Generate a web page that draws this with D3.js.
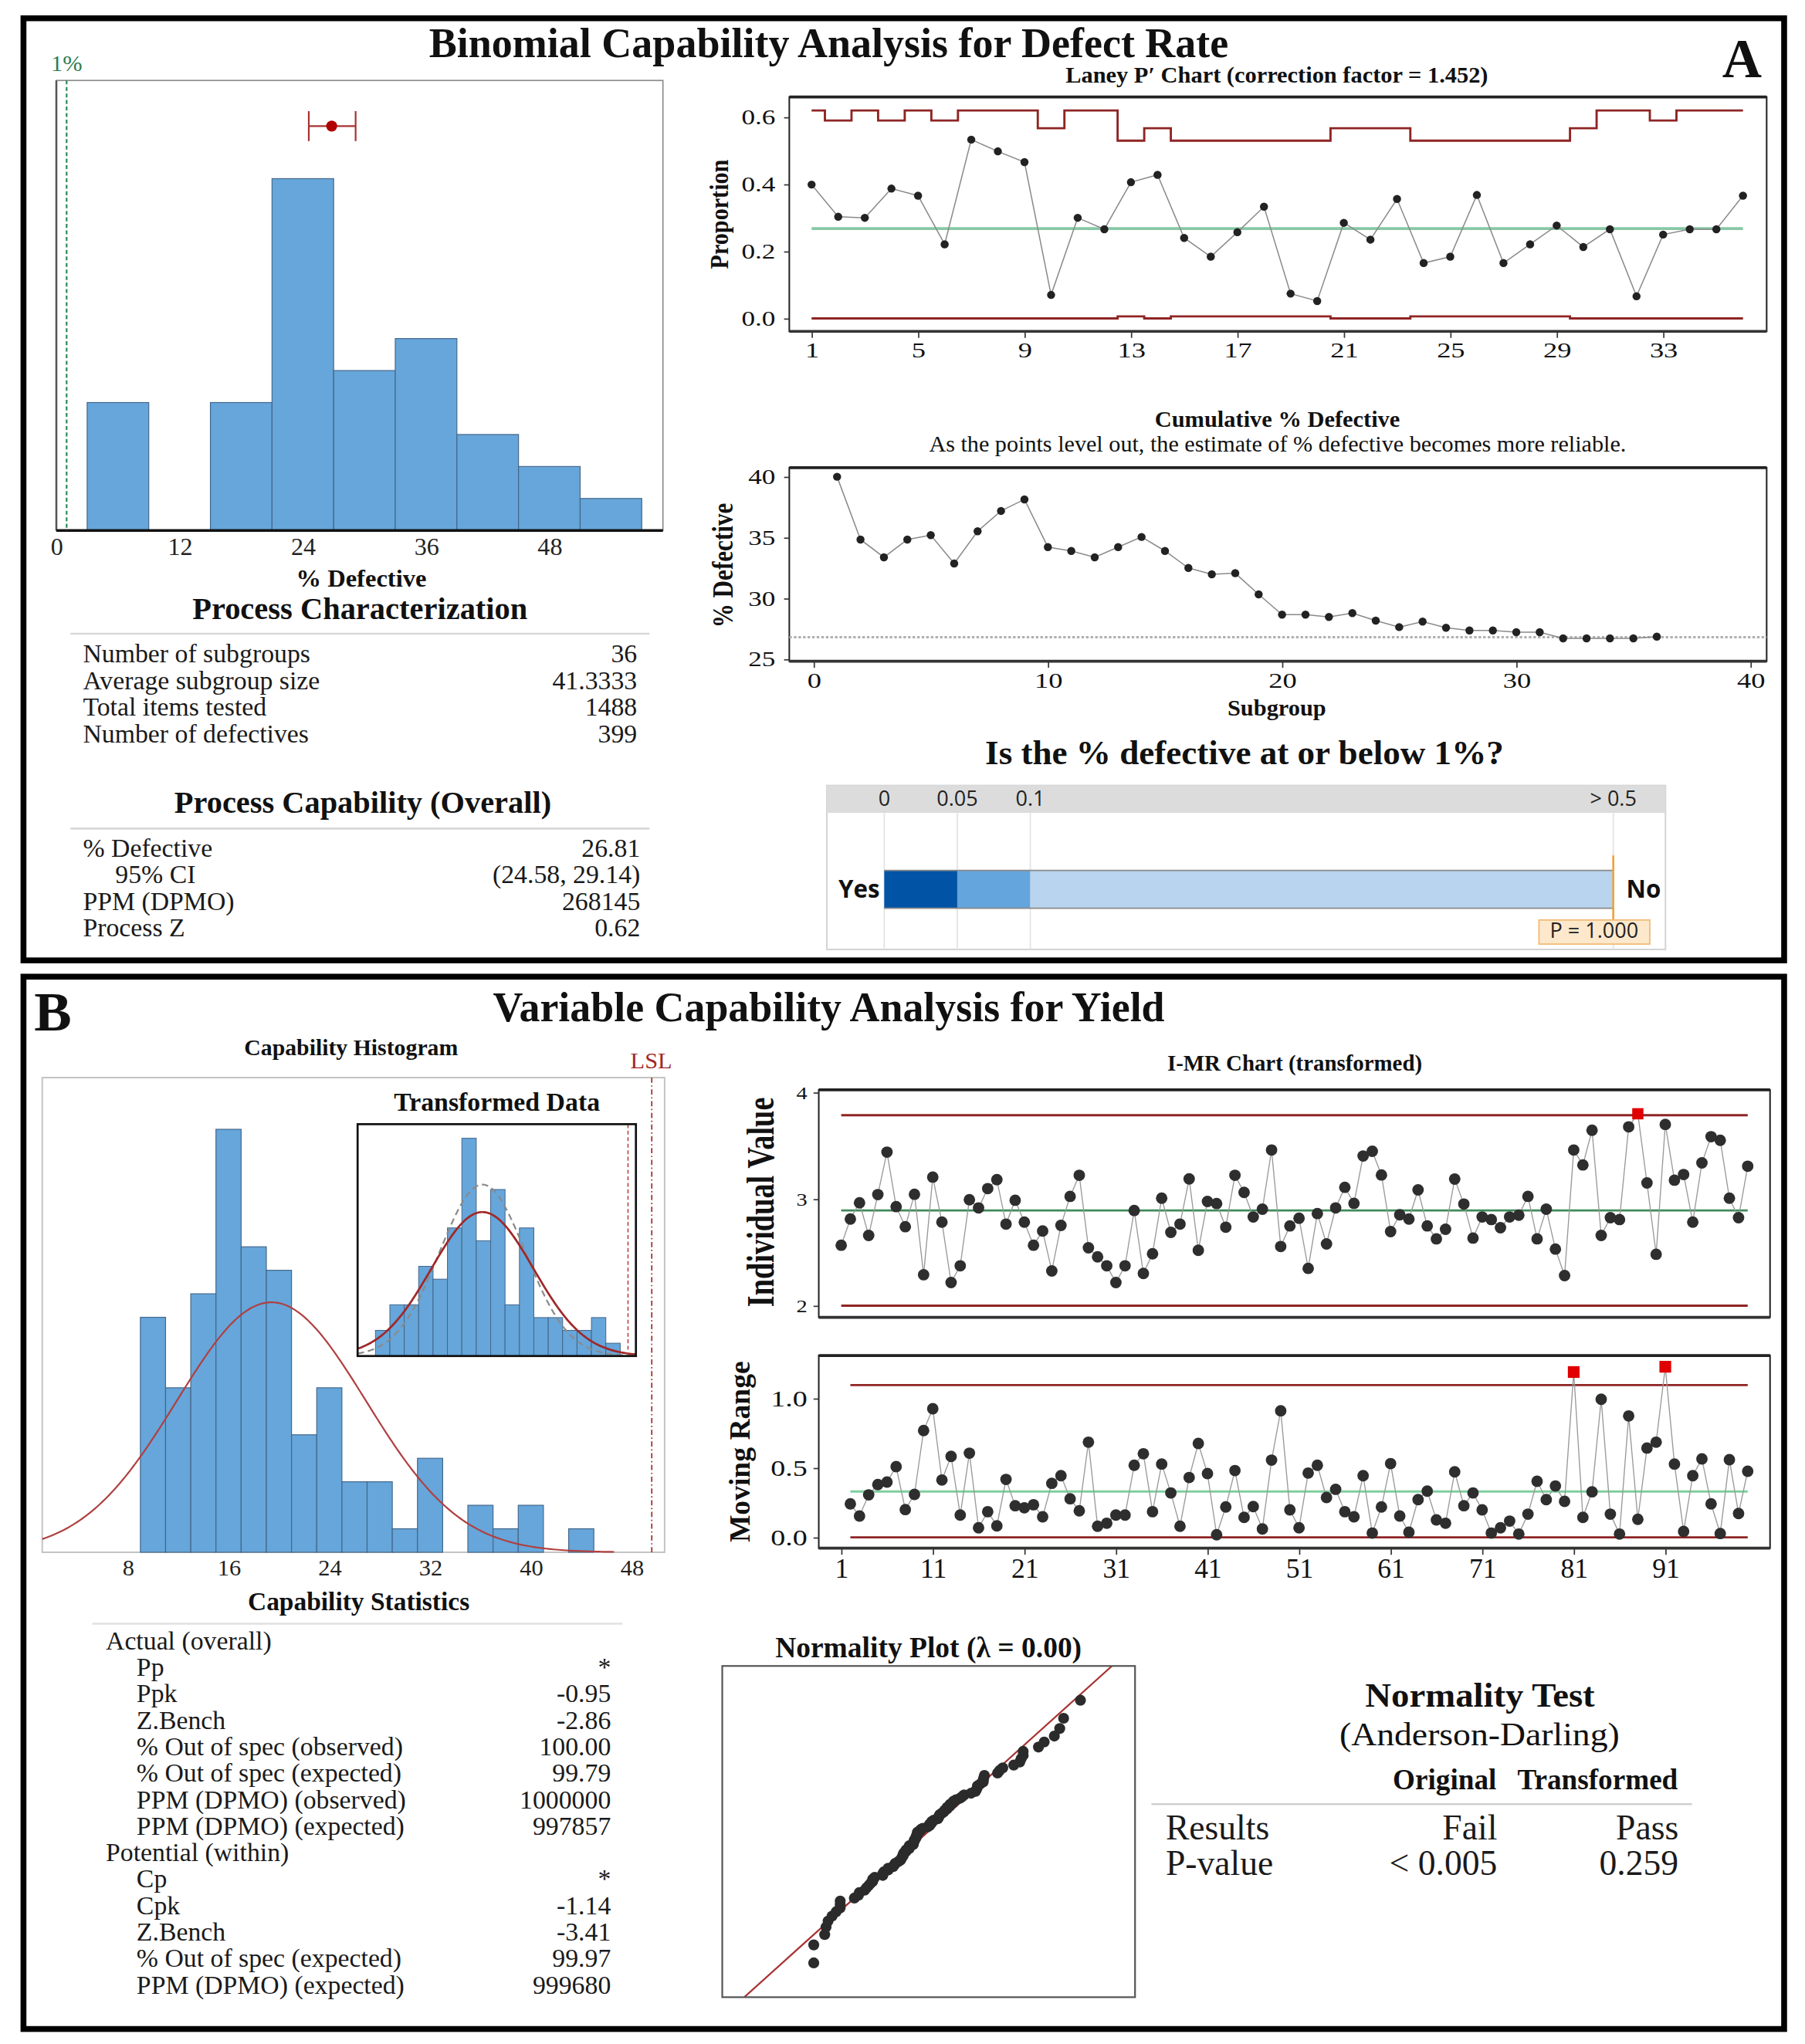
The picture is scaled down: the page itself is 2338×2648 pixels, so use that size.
<!DOCTYPE html>
<html>
<head>
<meta charset="utf-8">
<title>Capability Analysis</title>
<script src="https://d3js.org/d3.v7.min.js"></script>
<style>
html,body{margin:0;padding:0;background:#fff;}
svg{display:block;}
</style>
</head>
<body>
<svg id="chart" width="2338" height="2648" viewBox="0 0 1384 1567.5"></svg>
<script>
// ================= DATA =================
// Panel A : histogram of subgroup % defective
const histA_edges  = [3, 9, 15, 21, 27, 33, 39, 45, 51, 57];
const histA_counts = [4, 0, 4, 11, 5, 6, 3, 2, 1];
const histA_ticks  = [0, 12, 24, 36, 48];
const targetPct = 1;
const pctDefective = 26.81;
const pctCI = [24.58, 29.14];

const charRows = [["Number of subgroups","36"],["Average subgroup size","41.3333"],["Total items tested","1488"],["Number of defectives","399"]];
const capRows  = [["% Defective","26.81",0],["95% CI","(24.58, 29.14)",1],["PPM (DPMO)","268145",0],["Process Z","0.62",0]];

// Laney P' chart
const subgroups  = [1,2,3,4,5,6,7,8,9,10,11,12,13,14,15,16,17,18,19,20,21,22,23,24,25,26,27,28,29,30,31,32,33,34,35,36];
const propValues = [0.399,0.303,0.300,0.387,0.366,0.221,0.533,0.498,0.466,0.070,0.300,0.266,0.406,0.428,0.240,0.184,0.257,0.333,0.074,0.052,0.285,0.235,0.356,0.165,0.184,0.368,0.165,0.221,0.277,0.213,0.266,0.066,0.250,0.266,0.266,0.366];
const uclValues  = [0.620,0.590,0.620,0.590,0.620,0.590,0.620,0.620,0.620,0.567,0.620,0.620,0.530,0.567,0.530,0.530,0.530,0.530,0.530,0.530,0.567,0.567,0.567,0.530,0.530,0.530,0.530,0.530,0.530,0.567,0.620,0.620,0.590,0.620,0.620,0.620];
const lclValues  = [0,0,0,0,0,0,0,0,0,0,0,0,0.006,0,0.006,0.006,0.006,0.006,0.006,0.006,0,0,0,0.006,0.006,0.006,0.006,0.006,0.006,0,0,0,0,0,0,0];
const pBar = 0.268;
const laneyXTicks = [1,5,9,13,17,21,25,29,33];
const laneyYTicks = [0,0.2,0.4,0.6];

// Cumulative % defective
const cumPct = [40.0,34.84,33.38,34.84,35.2,32.87,35.52,37.19,38.14,34.22,33.9,33.38,34.22,35.05,33.9,32.5,31.98,32.07,30.33,28.66,28.66,28.47,28.79,28.17,27.64,28.09,27.58,27.36,27.36,27.22,27.22,26.71,26.71,26.71,26.71,26.85];
const cumXTicks = [0,10,20,30,40];
const cumYTicks = [25,30,35,40];

// P-value bar
const pBreaks = [0, 0.05, 0.1, 0.5];
const pLabels = ["0", "0.05", "0.1", "> 0.5"];
const pColors = ["#0053a5", "#63a5dc", "#b8d4ee"];
const pValue = 1.000;

// Panel B : capability histogram (original data)
const histB_edges  = [9,11,13,15,17,19,21,23,25,27,29,31,33,35,37,39,41,43,45];
const histB_counts = [10,7,11,18,13,12,5,7,3,3,1,4,0,2,1,2,0,1];
const histB_ticks  = [8,16,24,32,40,48];
const nObs = 100;
const fitMean = 19.4, fitSD = 7.5;
const LSL = 49.6;

// inset : transformed data (ln)
const histT_edges  = [2.15,2.25,2.35,2.45,2.55,2.65,2.75,2.85,2.95,3.05,3.15,3.25,3.35,3.45,3.55,3.65,3.75,3.85];
const histT_counts = [2,4,4,7,6,10,17,9,13,4,10,3,3,2,2,3,1];
const trMean = 2.893, trSDoverall = 0.355, trSDwithin = 0.298;

const capStatRows = [
  ["Actual (overall)","",0],["Pp","*",1],["Ppk","-0.95",1],["Z.Bench","-2.86",1],
  ["% Out of spec (observed)","100.00",1],["% Out of spec (expected)","99.79",1],
  ["PPM (DPMO) (observed)","1000000",1],["PPM (DPMO) (expected)","997857",1],
  ["Potential (within)","",0],["Cp","*",1],["Cpk","-1.14",1],["Z.Bench","-3.41",1],
  ["% Out of spec (expected)","99.97",1],["PPM (DPMO) (expected)","999680",1]
];

// I-MR chart (transformed)
const iValues = [2.567,2.813,2.965,2.659,3.042,3.440,2.929,2.741,3.045,2.290,
3.206,2.784,2.217,2.374,2.994,2.917,3.098,3.182,2.765,2.989,
2.784,2.567,2.700,2.326,2.753,3.025,3.223,2.543,2.458,2.374,
2.217,2.374,2.893,2.302,2.487,3.008,2.688,2.765,3.189,2.519,
2.977,2.958,2.736,3.223,3.062,2.832,2.905,3.460,2.555,2.748,
2.820,2.350,2.864,2.579,2.917,3.110,2.960,3.404,3.448,3.226,
2.695,2.852,2.813,3.086,2.748,2.627,2.717,3.187,2.953,2.634,
2.832,2.808,2.731,2.832,2.849,3.025,2.627,2.905,2.531,2.282,
3.460,3.320,3.645,2.659,2.825,2.808,3.677,3.800,3.151,2.482,
3.700,3.177,3.230,2.784,3.339,3.585,3.551,3.008,2.825,3.308];
const mrValues = [0.241,0.154,0.306,0.380,0.398,0.509,0.200,0.309,0.769,
0.926,0.413,0.583,0.161,0.606,0.069,0.185,0.083,0.417,0.228,
0.213,0.235,0.148,0.389,0.444,0.278,0.191,0.685,0.080,0.102,
0.161,0.161,0.519,0.602,0.185,0.528,0.320,0.080,0.431,0.676,
0.459,0.019,0.219,0.481,0.144,0.222,0.061,0.556,0.911,0.198,
0.069,0.463,0.519,0.287,0.346,0.185,0.148,0.444,0.031,0.219,
0.531,0.154,0.037,0.272,0.333,0.126,0.102,0.472,0.228,0.320,
0.198,0.031,0.069,0.117,0.024,0.167,0.404,0.272,0.370,0.259,
1.190,0.144,0.328,0.994,0.167,0.024,0.874,0.130,0.643,0.685,
1.228,0.528,0.043,0.444,0.565,0.241,0.028,0.559,0.172,0.476];
const iCL = 2.893, iUCL = 3.786, iLCL = 2.0;
const mrCL = 0.330, mrUCL = 1.096, mrLCL = 0;
const imrXTicks = [1,11,21,31,41,51,61,71,81,91];
const iYTicks = [2,3,4];
const mrYTicks = [0,0.5,1.0];

// Normality plot fit (transformed, overall)
const npMean = 2.896, npSD = 0.352;

const normRows = [["Results","Fail","Pass"],["P-value","< 0.005","0.259"]];

// ================= DRAWING =================
const SERIF = '"Liberation Serif","Times New Roman",Times,serif';
const SANS  = '"Open Sans","Noto Sans","DejaVu Sans",sans-serif';
const BAR = "#66a6da", BAR_EDGE = "#44668a";
const RED = "#8f2424";
const svg = d3.select("#chart");
svg.append("rect").attr("width",1384).attr("height",1567.5).attr("fill","#fff");

function T(g,o){
  const el = g.append("text").text(o.t)
    .attr("font-family", o.fam||SERIF).attr("font-size", o.s||18)
    .attr("font-weight", o.w||"normal").attr("text-anchor", o.a||"start")
    .attr("fill", o.f||"#111");
  const sx = o.sx||1;
  let tr = `translate(${o.x},${o.y})`;
  if (sx!==1) tr += ` scale(${sx},1)`;
  if (o.r) tr += ` rotate(${o.r})`;
  el.attr("transform", tr);
  if (o.len) el.attr("textLength", o.len/(o.r?1:sx)).attr("lengthAdjust", o.adj||"spacingAndGlyphs");
  return el;
}
function styleAxis(g,size,sx,fill){
  g.attr("font-family",SERIF).attr("font-size",size);
  g.select(".domain").remove();
  g.selectAll(".tick line").attr("stroke","#333").attr("stroke-width",1);
  g.selectAll(".tick text").attr("fill",fill||"#111").each(function(){
    if (sx && sx!==1){
      const t=d3.select(this); const x=+(t.attr("x")||0);
      t.attr("x", x/sx).attr("transform",`scale(${sx},1)`);
    }
  });
}
function line(g,x1,y1,x2,y2,stroke,w,dash){
  const l=g.append("line").attr("x1",x1).attr("y1",y1).attr("x2",x2).attr("y2",y2)
    .attr("stroke",stroke).attr("stroke-width",w);
  if(dash) l.attr("stroke-dasharray",dash);
  return l;
}
function pdf(x,m,s){ return Math.exp(-0.5*((x-m)/s)**2)/(s*Math.sqrt(2*Math.PI)); }
function invNorm(p){
  const a=[-3.969683028665376e+01,2.209460984245205e+02,-2.759285104469687e+02,1.383577518672690e+02,-3.066479806614716e+01,2.506628277459239e+00];
  const b=[-5.447609879822406e+01,1.615858368580409e+02,-1.556989798598866e+02,6.680131188771972e+01,-1.328068155288572e+01];
  const c=[-7.784894002430293e-03,-3.223964580411365e-01,-2.400758277161838e+00,-2.549732539343734e+00,4.374664141464968e+00,2.938163982698783e+00];
  const d=[7.784695709041462e-03,3.224671290700398e-01,2.445134137142996e+00,3.754408661907416e+00];
  const pl=0.02425; let q,r;
  if(p<pl){q=Math.sqrt(-2*Math.log(p));return (((((c[0]*q+c[1])*q+c[2])*q+c[3])*q+c[4])*q+c[5])/((((d[0]*q+d[1])*q+d[2])*q+d[3])*q+1);}
  if(p<=1-pl){q=p-0.5;r=q*q;return (((((a[0]*r+a[1])*r+a[2])*r+a[3])*r+a[4])*r+a[5])*q/(((((b[0]*r+b[1])*r+b[2])*r+b[3])*r+b[4])*r+1);}
  q=Math.sqrt(-2*Math.log(1-p));return -(((((c[0]*q+c[1])*q+c[2])*q+c[3])*q+c[4])*q+c[5])/((((d[0]*q+d[1])*q+d[2])*q+d[3])*q+1);
}
function plotBox(g,x0,y0,x1,y1,stroke,w){
  g.append("rect").attr("x",x0).attr("y",y0).attr("width",x1-x0).attr("height",y1-y0)
    .attr("fill","none").attr("stroke",stroke).attr("stroke-width",w);
}
function ctrlBox(g,x0,y0,x1,y1){
  plotBox(g,x0,y0,x1,y1,"#222",1.2);
  line(g,x0,y0,x1,y0,"#222",2.2); line(g,x0,y1,x1,y1,"#333",2.2);
}

// ---- frames ----
svg.append("rect").attr("x",18).attr("y",14).attr("width",1350).attr("height",722.5)
  .attr("fill","none").attr("stroke","#000").attr("stroke-width",4.5);
svg.append("rect").attr("x",18).attr("y",749).attr("width",1350).attr("height",807)
  .attr("fill","none").attr("stroke","#000").attr("stroke-width",4.5);

T(svg,{t:"Binomial Capability Analysis for Defect Rate",x:635.5,y:43.6,s:32,w:"bold",a:"middle",len:613});
T(svg,{t:"A",x:1335.6,y:59,s:42,w:"bold",a:"middle"});
T(svg,{t:"Variable Capability Analysis for Yield",x:635.5,y:783,s:33,w:"bold",a:"middle",len:515});
T(svg,{t:"B",x:40.6,y:790,s:43,w:"bold",a:"middle"});

// ================= PANEL A : histogram =================
{
  const g = svg.append("g");
  const x = d3.scaleLinear().domain([0,59.06]).range([43.2,508.3]);
  const y = d3.scaleLinear().domain([0,14.07]).range([406.8,61.7]);
  plotBox(g,43.2,61.7,508.3,406.8,"#8c8c8c",1);
  const bins = histA_counts.map((c,i)=>({x0:histA_edges[i],x1:histA_edges[i+1],c})).filter(d=>d.c>0);
  g.selectAll("rect.bar").data(bins).join("rect").attr("class","bar")
    .attr("x",d=>x(d.x0)).attr("width",d=>x(d.x1)-x(d.x0))
    .attr("y",d=>y(d.c)).attr("height",d=>y(0)-y(d.c))
    .attr("fill",BAR).attr("stroke",BAR_EDGE).attr("stroke-width",0.7);
  line(g,43.2,61.7,43.2,406.8,"#555",1.5);
  line(g,43.2,406.8,508.3,406.8,"#111",2);
  line(g,x(targetPct),61.7,x(targetPct),406.8,"#2e8b57",1.3,"3,2");
  T(g,{t:"1%",x:x(targetPct),y:54.5,s:18,a:"middle",f:"#2e7d50"});
  const cy = 96.7;
  line(g,x(pctCI[0]),cy,x(pctCI[1]),cy,"#a83232",1.3);
  line(g,x(pctCI[0]),cy-11.5,x(pctCI[0]),cy+11.5,"#a83232",1.3);
  line(g,x(pctCI[1]),cy-11.5,x(pctCI[1]),cy+11.5,"#a83232",1.3);
  g.append("circle").attr("cx",x(pctDefective)).attr("cy",cy).attr("r",4.2).attr("fill","#b00000");
  const ax = g.append("g").attr("transform","translate(0,406.8)")
    .call(d3.axisBottom(x).tickValues(histA_ticks).tickSize(0).tickPadding(5.5));
  styleAxis(ax,19,1,"#222");
  T(g,{t:"% Defective",x:277,y:450,s:19.3,w:"bold",a:"middle",len:100});
}

// ---- Process characterization tables ----
{
  const g = svg.append("g");
  T(g,{t:"Process Characterization",x:276,y:474.6,s:24,w:"bold",a:"middle",len:257});
  line(g,54,486,498,486,"#d8d8d8",1.5);
  charRows.forEach((r,i)=>{
    const yy = 508.1 + i*20.4;
    T(g,{t:r[0],x:63.6,y:yy,s:20,f:"#1a1a1a"});
    T(g,{t:r[1],x:488.5,y:yy,s:20,a:"end",f:"#1a1a1a"});
  });
  T(g,{t:"Process Capability (Overall)",x:278.2,y:623.5,s:24,w:"bold",a:"middle",len:289});
  line(g,54,635.4,498,635.4,"#d8d8d8",1.5);
  capRows.forEach((r,i)=>{
    const yy = 657 + i*20.4;
    T(g,{t:r[0],x:r[2]?88.4:63.6,y:yy,s:20,f:"#1a1a1a"});
    T(g,{t:r[1],x:490.9,y:yy,s:20,a:"end",f:"#1a1a1a"});
  });
}

// ================= Laney P' chart =================
{
  const g = svg.append("g");
  const X0=605.2,X1=1354.6,Y0=74.4,Y1=254.1;
  const x = d3.scaleLinear().domain([0.162,36.89]).range([X0,X1]);
  const y = d3.scaleLinear().domain([-0.0385,0.660]).range([Y1,Y0]);
  T(g,{t:"Laney P\u2032 Chart (correction factor = 1.452)",x:979,y:63.1,s:17,w:"bold",a:"middle",len:324});
  ctrlBox(g,X0,Y0,X1,Y1);
  const stepLine = d3.line().x((d,i)=>x(subgroups[i])).y(d=>y(d)).curve(d3.curveStep);
  g.append("path").attr("d",stepLine(uclValues)).attr("fill","none").attr("stroke",RED).attr("stroke-width",1.7);
  g.append("path").attr("d",stepLine(lclValues)).attr("fill","none").attr("stroke",RED).attr("stroke-width",1.7);
  line(g,x(1),y(pBar),x(36),y(pBar),"#88c8a6",2.2);
  const pl = d3.line().x((d,i)=>x(subgroups[i])).y(d=>y(d));
  g.append("path").attr("d",pl(propValues)).attr("fill","none").attr("stroke","#8a8a8a").attr("stroke-width",0.9);
  g.selectAll("circle.p").data(propValues).join("circle").attr("class","p")
    .attr("cx",(d,i)=>x(subgroups[i])).attr("cy",d=>y(d)).attr("r",3.1).attr("fill","#222");
  const ay = g.append("g").attr("transform",`translate(${X0},0)`)
    .call(d3.axisLeft(y).tickValues(laneyYTicks).tickFormat(d3.format(".1f")).tickSize(4).tickPadding(6.7));
  styleAxis(ay,16,1.3);
  const ax = g.append("g").attr("transform",`translate(0,${Y1})`)
    .call(d3.axisBottom(x).tickValues(laneyXTicks).tickSize(5).tickPadding(3.5));
  styleAxis(ax,16,1.35);
  T(g,{t:"Proportion",x:558.5,y:164.3,s:17.8,w:"bold",a:"middle",r:-90,sx:1.1,len:84});
}

// ================= Cumulative % defective =================
{
  const g = svg.append("g");
  const X0=605.2,X1=1354.6,Y0=358.7,Y1=507.1;
  const x = d3.scaleLinear().domain([-1.04,40.69]).range([X0,X1]);
  const y = d3.scaleLinear().domain([24.83,40.74]).range([Y1,Y0]);
  T(g,{t:"Cumulative % Defective",x:979.4,y:327.5,s:18,w:"bold",a:"middle",len:188});
  T(g,{t:"As the points level out, the estimate of % defective becomes more reliable.",x:979.6,y:346.3,s:17,a:"middle",len:534.5});
  ctrlBox(g,X0,Y0,X1,Y1);
  line(g,X0,y(pctDefective),X1,y(pctDefective),"#b0b0b0",1.8,"2,1.5");
  const pl = d3.line().x((d,i)=>x(subgroups[i])).y(d=>y(d));
  g.append("path").attr("d",pl(cumPct)).attr("fill","none").attr("stroke","#8a8a8a").attr("stroke-width",0.9);
  g.selectAll("circle.p").data(cumPct).join("circle").attr("class","p")
    .attr("cx",(d,i)=>x(subgroups[i])).attr("cy",d=>y(d)).attr("r",3.1).attr("fill","#222");
  const ay = g.append("g").attr("transform",`translate(${X0},0)`)
    .call(d3.axisLeft(y).tickValues(cumYTicks).tickSize(4).tickPadding(6.7));
  styleAxis(ay,16,1.3);
  const ax = g.append("g").attr("transform",`translate(0,${Y1})`)
    .call(d3.axisBottom(x).tickValues(cumXTicks).tickSize(5).tickPadding(4));
  styleAxis(ax,16,1.35);
  T(g,{t:"% Defective",x:562,y:433.6,s:18.4,w:"bold",a:"middle",r:-90,sx:1.25,len:95.7});
  T(g,{t:"Subgroup",x:979,y:548.5,s:18,w:"bold",a:"middle",len:75.6});
}

// ================= P-value bar =================
{
  const g = svg.append("g");
  const xp = d3.scaleLinear().domain(pBreaks).range([678,734,790,1237]).clamp(true);
  T(g,{t:"Is the % defective at or below 1%?",x:954.2,y:586,s:26.5,w:"bold",a:"middle",len:397.6});
  g.append("rect").attr("x",634).attr("y",602.4).attr("width",643).attr("height",125.7)
    .attr("fill","#fff").attr("stroke","#d4d4d4").attr("stroke-width",1.2);
  g.append("rect").attr("x",634).attr("y",602.4).attr("width",643).attr("height",21)
    .attr("fill","#dcdcdc");
  pBreaks.forEach((b,i)=>{
    line(g,xp(b),623.4,xp(b),728,"#e2e2e2",1);
    T(g,{t:pLabels[i],x:xp(b),y:618,s:16,fam:SANS,a:"middle",f:"#222"});
  });
  for(let i=0;i<3;i++){
    g.append("rect").attr("x",xp(pBreaks[i])).attr("y",667.5)
      .attr("width",xp(pBreaks[i+1])-xp(pBreaks[i])).attr("height",29)
      .attr("fill",pColors[i]);
  }
  line(g,xp(0),667.5,xp(0.5),667.5,"#8a8a8a",1);
  line(g,xp(0),696.5,xp(0.5),696.5,"#8a8a8a",1);
  T(g,{t:"Yes",x:674.5,y:688.2,s:18.5,w:"bold",fam:SANS,a:"end"});
  T(g,{t:"No",x:1247,y:688.2,s:18.5,w:"bold",fam:SANS});
  line(g,xp(pValue),656,xp(pValue),706,"#f0a030",1.5);
  g.append("rect").attr("x",1180).attr("y",705.5).attr("width",85).attr("height",18.5)
    .attr("fill","#fde8cc").attr("stroke","#f0b870").attr("stroke-width",1);
  T(g,{t:"P = "+pValue.toFixed(3),x:1222.3,y:719,s:16,fam:SANS,a:"middle",f:"#222"});
}

// ================= PANEL B : capability histogram =================
{
  const g = svg.append("g");
  const X0=32.4,X1=509.6,Y0=826.4,Y1=1190.4;
  const x = d3.scaleLinear().domain([1.21,50.62]).range([X0,X1]);
  const y = d3.scaleLinear().domain([0,20.2]).range([Y1,Y0]);
  T(g,{t:"Capability Histogram",x:269.2,y:809,s:18,w:"bold",a:"middle",len:164});
  plotBox(g,X0,Y0,X1,Y1,"#c4c4c4",1.2);
  const bins = histB_counts.map((c,i)=>({x0:histB_edges[i],x1:histB_edges[i+1],c})).filter(d=>d.c>0);
  g.selectAll("rect.bar").data(bins).join("rect").attr("class","bar")
    .attr("x",d=>x(d.x0)).attr("width",d=>x(d.x1)-x(d.x0))
    .attr("y",d=>y(d.c)).attr("height",d=>y(0)-y(d.c))
    .attr("fill",BAR).attr("stroke",BAR_EDGE).attr("stroke-width",0.7);
  const bw = histB_edges[1]-histB_edges[0];
  const pts = d3.range(1.21,46.8,0.2).map(v=>[v,nObs*bw*pdf(v,fitMean,fitSD)]);
  g.append("path").attr("d",d3.line().x(d=>x(d[0])).y(d=>y(d[1]))(pts))
    .attr("fill","none").attr("stroke","#b04040").attr("stroke-width",1.3);
  line(g,x(LSL),Y0,x(LSL),Y1,"#a02828",1,"4,2,1,2");
  T(g,{t:"LSL",x:499.4,y:819,s:18,a:"middle",f:"#a02828"});
  const ax = g.append("g").attr("transform",`translate(0,${Y1})`)
    .call(d3.axisBottom(x).tickValues(histB_ticks).tickSize(0).tickPadding(5));
  styleAxis(ax,18,1,"#222");

  // inset
  const I0=274.2,I1=487.6,J0=862.1,J1=1039.9;
  const xi = d3.scaleLinear().domain([2.026,3.959]).range([I0,I1]);
  const yi = d3.scaleLinear().domain([0,18.1]).range([J1,J0]);
  T(g,{t:"Transformed Data",x:381,y:852,s:20,w:"bold",a:"middle",len:158});
  g.append("rect").attr("x",I0).attr("y",J0).attr("width",I1-I0).attr("height",J1-J0).attr("fill","#fff");
  const tb = histT_counts.map((c,i)=>({x0:histT_edges[i],x1:histT_edges[i+1],c}));
  g.selectAll("rect.tbar").data(tb).join("rect").attr("class","tbar")
    .attr("x",d=>xi(d.x0)).attr("width",d=>xi(d.x1)-xi(d.x0))
    .attr("y",d=>yi(d.c)).attr("height",d=>yi(0)-yi(d.c))
    .attr("fill",BAR).attr("stroke",BAR_EDGE).attr("stroke-width",0.6);
  const tbw = histT_edges[1]-histT_edges[0];
  const tx = d3.range(2.026,3.96,0.01);
  g.append("path").attr("d",d3.line().x(d=>xi(d)).y(d=>yi(nObs*tbw*pdf(d,trMean,trSDwithin)))(tx))
    .attr("fill","none").attr("stroke","#8a8a8a").attr("stroke-width",1.3).attr("stroke-dasharray","5,3");
  g.append("path").attr("d",d3.line().x(d=>xi(d)).y(d=>yi(nObs*tbw*pdf(d,trMean,trSDoverall)))(tx))
    .attr("fill","none").attr("stroke","#a02828").attr("stroke-width",1.6);
  line(g,xi(Math.log(LSL)),J0,xi(Math.log(LSL)),J1,"#c04848",1,"3,2");
  plotBox(g,I0,J0,I1,J1,"#111",1.6);
}

// ---- capability statistics table ----
{
  const g = svg.append("g");
  T(g,{t:"Capability Statistics",x:275,y:1235,s:20,w:"bold",a:"middle",len:170});
  line(g,70.8,1245.2,477.3,1245.2,"#e0e0e0",1.5);
  capStatRows.forEach((r,i)=>{
    const yy = 1264.9 + i*20.3;
    T(g,{t:r[0],x:r[2]?104.7:81.1,y:yy,s:20,f:"#1a1a1a"});
    if(r[1]) T(g,{t:r[1],x:468.4,y:yy,s:20,a:"end",f:"#1a1a1a"});
  });
}

// ================= I-MR chart =================
{
  const g = svg.append("g");
  const X0=627.8,X1=1357.2;
  const x = d3.scaleLinear().domain([-1.45,102.44]).range([X0,X1]);
  T(g,{t:"I-MR Chart (transformed)",x:992.7,y:820.8,s:17,w:"bold",a:"middle",len:195.4});
  // I chart
  const IY0=835.8, IY1=1010.2;
  const yI = d3.scaleLinear().domain([1.891,4.024]).range([IY1,IY0]);
  ctrlBox(g,X0,IY0,X1,IY1);
  line(g,x(1),yI(iUCL),x(100),yI(iUCL),RED,1.7);
  line(g,x(1),yI(iLCL),x(100),yI(iLCL),RED,1.7);
  line(g,x(1),yI(iCL),x(100),yI(iCL),"#3f8a5a",1.7);
  const il = d3.line().x((d,i)=>x(i+1)).y(d=>yI(d));
  g.append("path").attr("d",il(iValues)).attr("fill","none").attr("stroke","#9a9a9a").attr("stroke-width",0.8);
  const iPts = iValues.map((v,i)=>({n:i+1,v}));
  g.selectAll("circle.i").data(iPts.filter(d=>d.v<=iUCL && d.v>=iLCL)).join("circle").attr("class","i")
    .attr("cx",d=>x(d.n)).attr("cy",d=>yI(d.v)).attr("r",4.4).attr("fill","#2e2e2e");
  g.selectAll("rect.i").data(iPts.filter(d=>d.v>iUCL || d.v<iLCL)).join("rect").attr("class","i")
    .attr("x",d=>x(d.n)-4.3).attr("y",d=>yI(d.v)-4.3).attr("width",8.6).attr("height",8.6).attr("fill","#e00000");
  const ayI = g.append("g").attr("transform",`translate(${X0},0)`)
    .call(d3.axisLeft(yI).tickValues(iYTicks).tickFormat(d3.format("d")).tickSize(4).tickPadding(4.8));
  styleAxis(ayI,14,1.2);
  T(g,{t:"Individual Value",x:593,y:921.9,s:22.3,w:"bold",a:"middle",r:-90,sx:1.35,len:160.8});

  // MR chart
  const MY0=1039.5, MY1=1187.3;
  const yM = d3.scaleLinear().domain([-0.078,1.309]).range([MY1,MY0]);
  ctrlBox(g,X0,MY0,X1,MY1);
  line(g,x(2),yM(mrUCL),x(100),yM(mrUCL),RED,1.7);
  line(g,x(2),yM(mrLCL),x(100),yM(mrLCL),RED,1.7);
  line(g,x(2),yM(mrCL),x(100),yM(mrCL),"#7fcf9f",1.7);
  const ml = d3.line().x((d,i)=>x(i+2)).y(d=>yM(d));
  g.append("path").attr("d",ml(mrValues)).attr("fill","none").attr("stroke","#9a9a9a").attr("stroke-width",0.8);
  const mPts = mrValues.map((v,i)=>({n:i+2,v}));
  g.selectAll("circle.m").data(mPts.filter(d=>d.v<=mrUCL)).join("circle").attr("class","m")
    .attr("cx",d=>x(d.n)).attr("cy",d=>yM(d.v)).attr("r",4.4).attr("fill","#2e2e2e");
  g.selectAll("rect.m").data(mPts.filter(d=>d.v>mrUCL)).join("rect").attr("class","m")
    .attr("x",d=>x(d.n)-4.5).attr("y",d=>yM(d.v)-4.5).attr("width",9).attr("height",9).attr("fill","#e00000");
  const ayM = g.append("g").attr("transform",`translate(${X0},0)`)
    .call(d3.axisLeft(yM).tickValues(mrYTicks).tickFormat(d3.format(".1f")).tickSize(4).tickPadding(4.8));
  styleAxis(ayM,18,1.25);
  const axM = g.append("g").attr("transform",`translate(0,${MY1})`)
    .call(d3.axisBottom(x).tickValues(imrXTicks).tickSize(5).tickPadding(2.5));
  styleAxis(axM,21,1);
  T(g,{t:"Moving Range",x:575,y:1113.3,s:22.2,w:"bold",a:"middle",r:-90,sx:1.0,len:139});
}

// ================= Normality plot =================
{
  const g = svg.append("g");
  const X0=553.8,X1=870.3,Y0=1277.6,Y1=1531.6;
  const x = d3.scaleLinear().domain([1.674,4.124]).range([X0,X1]);
  const y = d3.scaleLinear().domain([-3.1,3.1]).range([Y1,Y0]);
  T(g,{t:"Normality Plot (\u03bb = 0.00)",x:711.9,y:1270.7,s:22,w:"bold",a:"middle",len:235});
  g.append("defs").append("clipPath").attr("id","npclip").append("rect")
    .attr("x",X0).attr("y",Y0).attr("width",X1-X0).attr("height",Y1-Y0);
  const sorted = iValues.slice().sort(d3.ascending);
  const n = sorted.length;
  const pts = sorted.map((v,i)=>({v, z: invNorm((i+1-0.3)/(n+0.4))}));
  g.append("line").attr("clip-path","url(#npclip)")
    .attr("x1",x(npMean-3.1*npSD)).attr("y1",y(-3.1)).attr("x2",x(npMean+3.1*npSD)).attr("y2",y(3.1))
    .attr("stroke","#a83030").attr("stroke-width",1.3);
  g.selectAll("circle").data(pts).join("circle")
    .attr("cx",d=>x(d.v)).attr("cy",d=>y(d.z)).attr("r",4.2).attr("fill","#2b2b2b");
  plotBox(g,X0,Y0,X1,Y1,"#555",1.3);
}

// ================= Normality test table =================
{
  const g = svg.append("g");
  T(g,{t:"Normality Test",x:1134.8,y:1309,s:26,w:"bold",a:"middle",len:176});
  T(g,{t:"(Anderson-Darling)",x:1134.4,y:1338.5,s:25.5,a:"middle",len:214.7});
  T(g,{t:"Original",x:1147.4,y:1372.3,s:22,w:"bold",a:"end"});
  T(g,{t:"Transformed",x:1286.5,y:1372.3,s:22,w:"bold",a:"end"});
  line(g,882.9,1383.6,1297.4,1383.6,"#d0d0d0",1.5);
  normRows.forEach((r,i)=>{
    const yy = 1410.4 + i*27.6;
    T(g,{t:r[0],x:893.8,y:yy,s:27,f:"#1a1a1a"});
    T(g,{t:r[1],x:1148,y:yy,s:27,a:"end",f:"#1a1a1a"});
    T(g,{t:r[2],x:1287,y:yy,s:27,a:"end",f:"#1a1a1a"});
  });
}
</script>
</body>
</html>
